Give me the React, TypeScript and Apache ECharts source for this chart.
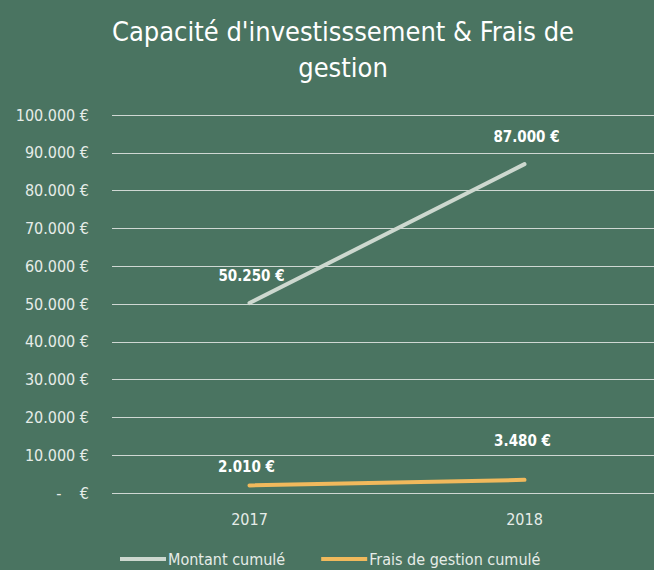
import React, { useEffect, useRef } from "react";
import * as echarts from "echarts";

const categories = ["2017", "2018"];
const montantCumule = [50250, 87000];
const fraisGestionCumule = [2010, 3480];
const seriesNames = ["Montant cumulé", "Frais de gestion cumulé"];
const seriesColors = ["#cdd8cf", "#f1b95c"];
const titleText = "Capacité d'investisssement & Frais de\ngestion";

const FONT = "'Liberation Sans Narrow', 'DejaVu Sans Condensed', 'Roboto', sans-serif";

const fmt = (v: number) => {
  if (v === 0) return "-    €";
  return String(v).replace(/\B(?=(\d{3})+(?!\d))/g, ".") + " €";
};

export default function App() {
  const ref = useRef<HTMLDivElement>(null);
  useEffect(() => {
    if (!ref.current) return;
    const chart = echarts.init(ref.current, undefined, { renderer: "svg" });
    const labelOffsetsA = [[2, -14], [2, -14]];
    const labelOffsetsB = [[-3, -5], [-2, -25]];
    const dataLabel = {
      show: true,
      position: "top",
      color: "#ffffff",
      fontWeight: "bold",
      fontSize: 15,
      fontFamily: FONT,
      formatter: (p: any) => fmt(p.value),
    };
    chart.setOption({
      animation: false,
      backgroundColor: "#4a7461",
      textStyle: { fontFamily: FONT },
      title: {
        text: titleText,
        left: 338,
        top: 8,
        textAlign: "center",
        textStyle: { color: "#ffffff", fontSize: 27, fontWeight: "normal", lineHeight: 36, fontFamily: FONT },
      },
      grid: { left: 112, top: 115, width: 550, height: 378 },
      legend: {
        bottom: -2,
        left: 115,
        icon: "rect",
        itemWidth: 46,
        itemHeight: 4,
        itemGap: 36,
        textStyle: { color: "#e6ece8", fontSize: 16, fontFamily: FONT, padding: [0, 0, 0, -3] },
        data: seriesNames.map((n, i) => ({ name: n, itemStyle: { color: seriesColors[i] } })),
      },
      xAxis: {
        type: "category",
        data: categories,
        axisLine: { show: false },
        axisTick: { show: false },
        axisLabel: { color: "#e6ece8", fontSize: 16, margin: 18, fontFamily: FONT },
      },
      yAxis: {
        type: "value",
        min: 0,
        max: 100000,
        interval: 10000,
        axisLine: { show: false },
        axisTick: { show: false },
        splitLine: { lineStyle: { color: "#cfd8d3", width: 1.2 } },
        axisLabel: { color: "#e6ece8", fontSize: 16, margin: 23, formatter: fmt, fontFamily: FONT },
      },
      series: [
        {
          name: seriesNames[0],
          type: "line",
          data: montantCumule.map((v, i) => ({ value: v, label: { offset: labelOffsetsA[i] } })),
          symbol: "circle",
          symbolSize: 2,
          showSymbol: true,
          lineStyle: { color: seriesColors[0], width: 4, cap: "round" },
          itemStyle: { color: seriesColors[0] },
          label: dataLabel,
        },
        {
          name: seriesNames[1],
          type: "line",
          data: fraisGestionCumule.map((v, i) => ({ value: v, label: { offset: labelOffsetsB[i] } })),
          symbol: "circle",
          symbolSize: 2,
          showSymbol: true,
          lineStyle: { color: seriesColors[1], width: 4, cap: "round" },
          itemStyle: { color: seriesColors[1] },
          label: dataLabel,
        },
      ],
    });
    return () => chart.dispose();
  }, []);
  return (
    <div
      style={{ position: "absolute", left: 0, top: 0, width: 654, height: 570, overflow: "hidden", background: "#4a7461" }}
    >
      <div ref={ref} style={{ width: 670, height: 570 }} />
    </div>
  );
}
